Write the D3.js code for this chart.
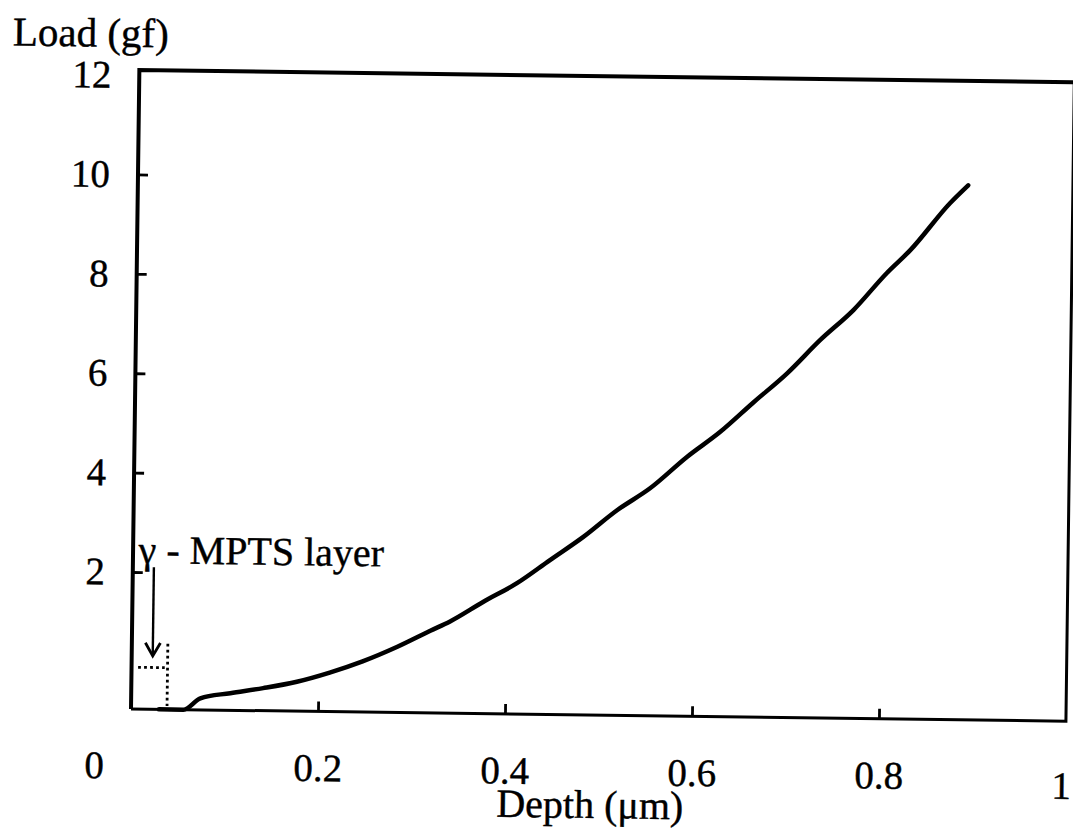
<!DOCTYPE html>
<html>
<head>
<meta charset="utf-8">
<script src="https://cdn.jsdelivr.net/npm/d3@7"></script>
<style>
  body { margin: 0; background: #fff; }
  text { font-family: "Liberation Serif", "Times New Roman", serif; fill: #000; stroke: #000; stroke-width: 0.4px; }
</style>
</head>
<body>
<svg id="chart" width="1073" height="837"></svg>
<script>
// loading curve, depth in um, load in gf
const depth = [0.03, 0.056, 0.074, 0.106, 0.141, 0.177, 0.212, 0.247, 0.284, 0.319, 0.340, 0.375, 0.411,
  0.446, 0.481, 0.517, 0.552, 0.591, 0.626, 0.661, 0.697, 0.732, 0.767, 0.802, 0.827, 0.869, 0.888];
const load = [0, 0, 0.17, 0.25, 0.33, 0.43, 0.57, 0.74, 0.96, 1.2, 1.34, 1.63, 1.91,
  2.35, 2.82, 3.37, 3.82, 4.46, 4.97, 5.57, 6.17, 6.85, 7.46, 8.21, 8.68, 9.64, 10.0];

const xTicks = [0.2, 0.4, 0.6, 0.8];
const xTickLabels = [0, 0.2, 0.4, 0.6, 0.8, 1];
const yTicks = [2, 4, 6, 8, 10];
const yTickLabels = [2, 4, 6, 8, 10, 12];

// gamma-MPTS layer marker
const layerDepth = 0.0385;
const layerLoad = 0.61;
const layerTop = 0.96;
const arrowFrom = 2.1;
const arrowTo = 0.78;

const svg = d3.select('#chart');
svg.append('rect').attr('width', 1073).attr('height', 837).attr('fill', '#fff');

const width = 935;
const height = 639;

const x = d3.scaleLinear().domain([0, 1]).range([0, width]);
// the 0..2 band is stretched on this plot, so use a piecewise scale
const y = d3.scaleLinear().domain([0, 2, 12]).range([0, -137, -634]);

// origin at the bottom-left corner; the whole sheet sits slightly tilted
const g = svg.append('g').attr('transform', 'translate(131,709) rotate(0.75)');

// frame
g.append('path')
  .attr('d', `M0,0 V${-height} H${width}`)
  .attr('fill', 'none').attr('stroke', '#000').attr('stroke-width', 4);
g.append('path')
  .attr('d', `M0,0 H${width} V${-height}`)
  .attr('fill', 'none').attr('stroke', '#000').attr('stroke-width', 3);

// inner tick marks
const xTickAxis = g.append('g')
  .call(d3.axisBottom(x).tickValues(xTicks).tickSize(-10).tickFormat(''));
const yTickAxis = g.append('g')
  .call(d3.axisLeft(y).tickValues(yTicks).tickSize(-10).tickFormat(''));
[xTickAxis, yTickAxis].forEach(a => {
  a.select('.domain').remove();
  a.selectAll('line').attr('stroke', '#000').attr('stroke-width', 2.8);
});

// tick labels
const xLab = g.append('g')
  .call(d3.axisBottom(x).tickValues(xTickLabels).tickSize(0).tickPadding(42).tickFormat(d3.format('')));
xLab.select('.domain').remove();
xLab.selectAll('text').attr('font-size', 39).attr('font-family', null);
xLab.selectAll('.tick').filter(d => d === 0)
  .attr('transform', `translate(${x(0) - 36},0)`);
xLab.selectAll('.tick').filter(d => d === 1)
  .attr('transform', `translate(${x(1) - 4},8)`);

const yLab = g.append('g')
  .call(d3.axisLeft(y).tickValues(yTickLabels).tickSize(0).tickPadding(28));
yLab.select('.domain').remove();
yLab.selectAll('text').attr('font-size', 39).attr('font-family', null);

// axis titles
g.append('text')
  .attr('x', -127).attr('y', -662)
  .attr('font-size', 41)
  .text('Load (gf)');
g.append('text')
  .attr('x', x(0.492)).attr('y', 103)
  .attr('text-anchor', 'middle')
  .attr('font-size', 40)
  .text('Depth (\u03bcm)');

// curve
const pts = depth.map((d, i) => [d, load[i]]);
const line = d3.line()
  .x(d => x(d[0]))
  .y(d => y(d[1]))
  .curve(d3.curveMonotoneX);
g.append('path')
  .datum(pts)
  .attr('fill', 'none')
  .attr('stroke', '#000')
  .attr('stroke-width', 4.5)
  .attr('stroke-linecap', 'round')
  .attr('stroke-linejoin', 'round')
  .attr('d', line);

// layer marker: dotted box edge
const dots = { stroke: '#000', 'stroke-width': 2.8, 'stroke-dasharray': '2.8,3.2', fill: 'none' };
const hDot = g.append('line')
  .attr('x1', x(0.007)).attr('x2', x(layerDepth - 0.003))
  .attr('y1', y(layerLoad)).attr('y2', y(layerLoad));
const vDot = g.append('line')
  .attr('x1', x(layerDepth)).attr('x2', x(layerDepth))
  .attr('y1', y(layerTop)).attr('y2', y(0.05));
[hDot, vDot].forEach(l => Object.entries(dots).forEach(([k, v]) => l.attr(k, v)));

// arrow pointing at the layer
const ax = x(0.0225);
g.append('line')
  .attr('x1', ax).attr('x2', ax)
  .attr('y1', y(arrowFrom)).attr('y2', y(arrowTo))
  .attr('stroke', '#000').attr('stroke-width', 2.4);
g.append('path')
  .attr('d', `M${ax - 7.5},${y(arrowTo) - 13} L${ax},${y(arrowTo)} L${ax + 7.5},${y(arrowTo) - 13}`)
  .attr('fill', 'none').attr('stroke', '#000').attr('stroke-width', 2.8);

g.append('text')
  .attr('x', x(0.006)).attr('y', y(2.18))
  .attr('font-size', 40)
  .text('\u03b3 - MPTS layer');
</script>
</body>
</html>
